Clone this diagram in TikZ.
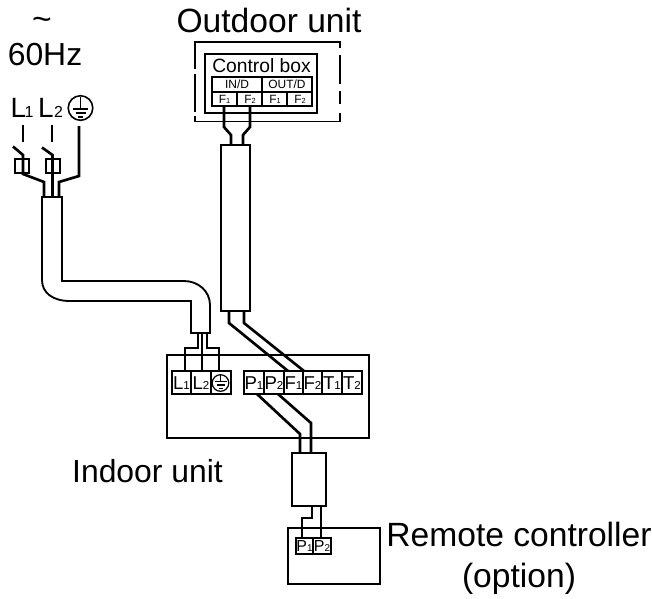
\documentclass[tikz,border=0pt]{standalone}
\usepackage{fontspec}
\setmainfont{Liberation Sans}
\newcommand{\px}{0.0264583cm}
\tikzset{
  x=\px,y=-\px,
  thin box/.style={draw=black,line width=1.3pt},
  wire/.style={draw=black,line width=2pt,line join=miter},
  cablebox/.style={draw=black,line width=1.4pt},
  biglabel/.style={font=\fontsize{25.3}{31}\selectfont,inner sep=0pt},
  term/.style={font=\fontsize{14}{14}\selectfont,inner sep=0pt},
  tinylabel/.style={font=\fontsize{9}{9}\selectfont,inner sep=0pt},
  rcterm/.style={font=\fontsize{12}{12}\selectfont,inner sep=0pt}
}
\newcommand{\Lsub}[2]{#1{\fontsize{0.62em}{1em}\selectfont #2}}
\begin{document}
\begin{tikzpicture}
\useasboundingbox (0,0) rectangle (652,598);
% labels
\node[biglabel] (outlabel) at (269,20) {Outdoor unit};
\node[biglabel] (tilde) at (42,24) {\char`\~};
\node[font=\fontsize{24}{24}\selectfont,inner sep=0pt] (hz) at (45,55) {60Hz};
\node[font=\fontsize{24}{24}\selectfont,inner sep=0pt] (indoorlabel) at (147.5,471) {Indoor unit};
\node[biglabel,align=center] (rclabel) at (519,558.5) {Remote controller\\(option)};
\node[font=\fontsize{21}{21}\selectfont,inner sep=0pt,anchor=base] (l1) at (18.5,117) {L};
\node[font=\fontsize{12}{12}\selectfont,inner sep=0pt,anchor=base] (l1s) at (29,117) {1};
\node[font=\fontsize{21}{21}\selectfont,inner sep=0pt,anchor=base] (l2) at (46,117) {L};
\node[font=\fontsize{12}{12}\selectfont,inner sep=0pt,anchor=base] (l2s) at (58.5,117) {2};
% mains earth symbol
\node[circle,draw,line width=1.2pt,minimum size=18.5pt,inner sep=0pt] (gnd) at (80.5,108) {};
\draw[line width=1.1pt] (80.5,97)--(80.5,109) (73,109)--(88,109) (75.5,113)--(85.5,113) (78,117)--(83,117);
% mains wires
\draw[wire] (23,125)--(23,142);
\draw[wire] (52,125)--(52,142);
\draw[wire] (79,126)--(79,176)--(59,182)--(59,197);
\draw[wire] (13,146.5)--(23,155)--(23,174)--(44,182)--(44,197);
\draw[wire] (42,147.5)--(52.5,155)--(52.5,197);
\draw[thin box] (15,159) rectangle (29,173);
\draw[thin box] (46,159) rectangle (60,173);
% mains cable
\draw[cablebox] (42,197) -- (42,280) .. controls (42,293) and (53,301) .. (70,301) -- (191,301) -- (191,333) -- (210,333) -- (210,305) .. controls (210,291) and (198,281) .. (184,281) -- (62,281) -- (62,197) -- cycle;
% indoor
\draw[thin box] (167,355) rectangle (369,438);
\draw[wire] (198,333)--(198,348)--(185,348)--(185,371);
\draw[wire] (202,333)--(202,371);
\draw[wire] (207,333)--(207,348)--(219,348)--(219,371);
% terminals L
\draw[thin box] (172,371) rectangle (231,394);
\draw[thin box] (191,371)--(191,394) (211,371)--(211,394);
\node[term] at (181.5,383) {\Lsub{L}{1}};
\node[term] at (201,383) {\Lsub{L}{2}};
\node[circle,draw,line width=0.9pt,minimum size=12.5pt,inner sep=0pt] (gnd2) at (220.5,383) {};
\draw[line width=.9pt] (220.5,375)--(220.5,381.5) (214.5,381.5)--(226.5,381.5) (216.5,385)--(224.5,385) (218.5,388.5)--(222.5,388.5);
% terminals P..T
\draw[thin box] (244,371) rectangle (362,394);
\foreach \x in {264,284,303,322,342} \draw[thin box] (\x,371)--(\x,394);
\node[term] at (254,383) {\Lsub{P}{1}};
\node[term] at (274,383) {\Lsub{P}{2}};
\node[term] at (293.5,383) {\Lsub{F}{1}};
\node[term] at (312.5,383) {\Lsub{F}{2}};
\node[term] at (332,383) {\Lsub{T}{1}};
\node[term] at (352,383) {\Lsub{T}{2}};
% outdoor dashed outline (solid top and bottom, broken sides)
\draw[thin box,line cap=butt] (195,69)--(195,42)--(340,42)--(340,48)
  (340,55)--(340,84) (340,91)--(340,104) (340,113)--(340,121.5)--(195,121.5)--(195,116)
  (195,112)--(195,74);
\draw[thin box] (205,54) rectangle (317,113);
\draw[thin box] (212,77) rectangle (312,106);
\draw[thin box] (212,92)--(312,92);
\draw[thin box] (262,77)--(262,106);
\draw[thin box] (237,92)--(237,106) (287,92)--(287,106);
\node[font=\fontsize{14.5}{14.5}\selectfont,inner sep=0pt] at (261.5,65.5) {Control box};
\node[tinylabel] at (237,84.5) {IN/D};
\node[tinylabel] at (287,84.5) {OUT/D};
\node[tinylabel] at (224.5,99.5) {\Lsub{F}{1}};
\node[tinylabel] at (250,99.5) {\Lsub{F}{2}};
\node[tinylabel] at (275,99.5) {\Lsub{F}{1}};
\node[tinylabel] at (300,99.5) {\Lsub{F}{2}};
% outdoor wires
\draw[wire] (224,106)--(224,127)--(231,135)--(231,145);
\draw[wire] (250,106)--(250,127)--(243,135)--(243,145);
\draw[cablebox] (221,145) rectangle (250,311);
\draw[wire] (229,311)--(229,323)--(288,371);
\draw[wire] (244,311)--(244,323)--(304,371);
% to remote
\draw[wire] (257,394)--(300,434)--(300,453);
\draw[wire] (278,394)--(311,423)--(311,453);
\draw[cablebox] (292,453) rectangle (326,506);
\draw[wire] (312,506)--(312,518)--(302,518)--(302,538);
\draw[wire] (321,506)--(321,538);
\draw[thin box] (288,528) rectangle (380,584);
\draw[thin box] (296,538) rectangle (331,554);
\draw[thin box] (313,538)--(313,554);
\node[rcterm] at (304.5,546.5) {\Lsub{P}{1}};
\node[rcterm] at (322,546.5) {\Lsub{P}{2}};
\end{tikzpicture}
\end{document}
